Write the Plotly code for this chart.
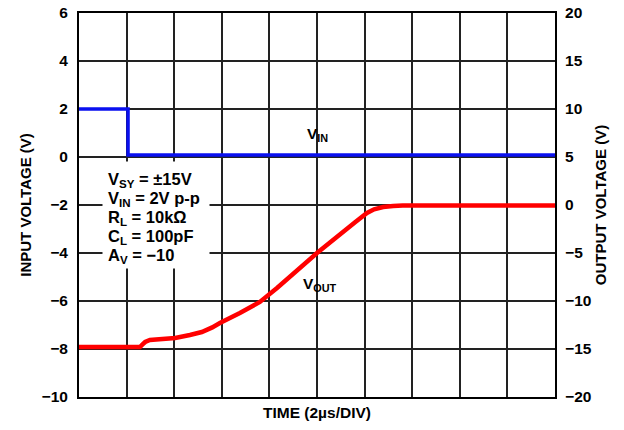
import plotly.graph_objects as go

# time in divisions (2 µs/DIV)
vin_t = [0, 1.03, 1.03, 10]
vin_v = [2.0, 2.0, 0.08, 0.08]

vout_t = [0, 1.28, 1.33, 1.39, 1.49, 1.75, 2.02, 2.33, 2.58, 2.8, 2.96, 3.38, 3.8, 4.16, 5.0, 5.8, 6.05, 6.2, 6.39, 6.6, 6.8, 10]
vout_v = [-14.8, -14.8, -14.55, -14.27, -14.06, -13.95, -13.85, -13.54, -13.23, -12.75, -12.29, -11.25, -10.1, -8.65, -5.0, -1.8, -0.83, -0.45, -0.21, -0.1, -0.05, -0.05]

left_ticks = [-10, -8, -6, -4, -2, 0, 2, 4, 6]
right_ticks = [-20, -15, -10, -5, 0, 5, 10, 15, 20]

cond_lines = ["V<sub>SY</sub> = ±15V", "V<sub>IN</sub> = 2V p-p", "R<sub>L</sub> = 10kΩ",
              "C<sub>L</sub> = 100pF", "A<sub>V</sub> = −10"]

FONT = "Liberation Sans, Arial, sans-serif"


def lab(v):
    return "<b>" + str(v).replace("-", "−") + "</b>"


fig = go.Figure()
fig.add_trace(go.Scatter(x=vin_t, y=vin_v, mode="lines",
                         line=dict(color="#0a10f0", width=3.5), yaxis="y"))
fig.add_trace(go.Scatter(x=vout_t, y=vout_v, mode="lines",
                         line=dict(color="#ff0000", width=4.5), yaxis="y2"))

fig.update_layout(
    width=624, height=430,
    margin=dict(l=79, r=69, t=13, b=33, autoexpand=False),
    paper_bgcolor="white", plot_bgcolor="white",
    showlegend=False,
    font=dict(family=FONT, color="black"),
    xaxis=dict(range=[0, 10], dtick=1, tick0=0, showticklabels=False, automargin=False,
               showgrid=True, gridcolor="#222", gridwidth=1.5,
               showline=True, linecolor="black", linewidth=2, mirror=True,
               zeroline=False, ticks="",
               title=dict(text="<b>TIME (2µs/DIV)</b>", font=dict(size=15.5), standoff=9)),
    yaxis=dict(range=[-10, 6], tickvals=left_ticks, ticktext=[lab(v) for v in left_ticks],
               automargin=False,
               showgrid=True, gridcolor="#222", gridwidth=1.5,
               showline=True, linecolor="black", linewidth=2, mirror=True,
               zeroline=False, ticks="outside", ticklen=6, tickcolor="rgba(0,0,0,0)",
               tickfont=dict(size=15.5),
               title=dict(text="<b>INPUT VOLTAGE (V)</b>", font=dict(size=15), standoff=6)),
    yaxis2=dict(range=[-20, 20], tickvals=right_ticks, ticktext=[lab(v) for v in right_ticks],
                automargin=False,
                overlaying="y", side="right", showgrid=False, zeroline=False,
                showline=False, ticks="outside", ticklen=6, tickcolor="rgba(0,0,0,0)",
                tickfont=dict(size=15.5),
                title=dict(text="<b>OUTPUT VOLTAGE (V)</b>", font=dict(size=15), standoff=4)),
)

# white box behind the test conditions
fig.add_annotation(xref="paper", yref="paper", x=0.048, y=0.475, xanchor="left", yanchor="middle",
                   text=" ", width=106, height=106, bgcolor="white", borderpad=0,
                   showarrow=False)
for i, t in enumerate(cond_lines):
    fig.add_annotation(xref="paper", yref="paper", x=0.058, y=0.565 - i * 0.0495,
                       xanchor="left", yanchor="middle", text="<b>" + t + "</b>",
                       showarrow=False, align="left", borderpad=0,
                       font=dict(size=16.5, family=FONT, color="black"))

fig.add_annotation(xref="x", yref="y", x=5.0, y=0.92, text="<b>V<sub>IN</sub></b>",
                   showarrow=False, font=dict(size=15.5, family=FONT, color="black"))
fig.add_annotation(xref="x", yref="y", x=5.06, y=-5.33, text="<b>V<sub>OUT</sub></b>",
                   showarrow=False, font=dict(size=15.5, family=FONT, color="black"))

fig.write_html("out.html", config={"displayModeBar": False},
               post_script="document.body.style.margin='0px';")
